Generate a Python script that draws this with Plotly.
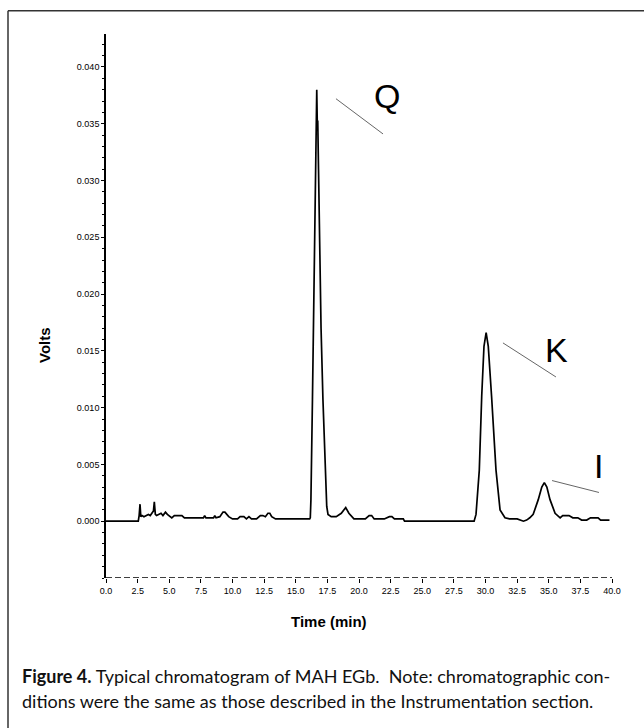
import plotly.graph_objects as go

# ---- data ----
time_min = [0.0, 2.55, 2.62, 2.69, 2.75, 2.85, 3.0, 3.2, 3.35, 3.5, 3.65, 3.75, 3.82, 3.9, 4.0,
            4.2, 4.35, 4.5, 4.7, 4.85, 5.0, 5.2, 5.4, 5.6, 6.0, 6.2, 6.4, 7.0, 7.7, 7.8, 7.9,
            8.5, 8.6, 8.7, 9.0, 9.25, 9.4, 9.7, 10.0, 10.4, 10.6, 10.9, 11.1, 11.3, 11.5, 11.9,
            12.2, 12.4, 12.6, 12.8, 12.95, 13.1, 13.4, 14.5, 16.1, 16.15, 16.2, 16.32, 16.4,
            16.5, 16.6, 16.66, 16.7, 16.74, 16.8, 16.9, 17.0, 17.15, 17.3, 17.45, 17.55, 17.8,
            18.2, 18.6, 18.95, 19.2, 19.6, 20.5, 20.8, 21.0, 21.2, 21.5, 22.0, 22.4, 22.6, 22.8,
            23.5, 23.6, 26.0, 29.1, 29.25, 29.51, 29.7, 29.88, 30.05, 30.22, 30.48, 30.83, 31.15,
            31.54, 31.9, 32.5, 33.0, 33.25, 33.5, 33.77, 34.17, 34.45, 34.65, 34.85, 35.1, 35.5,
            35.9, 36.1, 36.6, 36.9, 37.3, 37.6, 38.0, 38.3, 38.9, 39.1, 39.4, 39.8]
volts = [0.0, 0.0, 0.0005, 0.0015, 0.0004, 0.0005, 0.0004, 0.0005, 0.0006, 0.0005, 0.0007, 0.0009,
         0.0017, 0.0006, 0.0005, 0.0006, 0.0007, 0.0005, 0.0008, 0.0006, 0.0005, 0.0003, 0.0005,
         0.0005, 0.0005, 0.0003, 0.0003, 0.0003, 0.0003, 0.0005, 0.0003, 0.0003, 0.0005, 0.0003,
         0.0004, 0.0008, 0.0008, 0.0004, 0.0002, 0.0002, 0.0004, 0.0004, 0.0002, 0.0004, 0.0002,
         0.0002, 0.0005, 0.0005, 0.0004, 0.0007, 0.0007, 0.0004, 0.0002, 0.0002, 0.0002, 0.0003,
         0.0019, 0.0107, 0.017, 0.025, 0.033, 0.038, 0.0352, 0.0352, 0.031, 0.024, 0.017, 0.0107,
         0.005, 0.0013, 0.0006, 0.0004, 0.0004, 0.0007, 0.0012, 0.0007, 0.0002, 0.0002, 0.0005,
         0.0005, 0.0002, 0.0002, 0.0002, 0.0004, 0.0004, 0.0002, 0.0002, 0.0, 0.0, 0.0, 0.0006,
         0.0045, 0.011, 0.0154, 0.0166, 0.0154, 0.011, 0.0045, 0.001, 0.0003, 0.0002, 0.0002,
         0.0, 0.0001, 0.0003, 0.0006, 0.0019, 0.003, 0.0034, 0.003, 0.0019, 0.0007, 0.0003,
         0.0005, 0.0005, 0.0003, 0.0003, 0.0001, 0.0001, 0.0003, 0.0003, 0.0001, 0.0001, 0.0001]

x_ticks = [0.0, 2.5, 5.0, 7.5, 10.0, 12.5, 15.0, 17.5, 20.0, 22.5, 25.0, 27.5, 30.0, 32.5, 35.0, 37.5, 40.0]
y_ticks = [0.000, 0.005, 0.010, 0.015, 0.020, 0.025, 0.030, 0.035, 0.040]

peak_labels = ["Q", "K", "I"]
label_pos = [(22.2, 0.0374), (35.65, 0.0151), (38.9, 0.0049)]
leader_lines = [((18.18, 0.0372), (21.9, 0.0341)),
                ((31.38, 0.0157), (35.57, 0.0127)),
                ((35.26, 0.00358), (38.97, 0.00253))]

x_title = "Time (min)"
y_title = "Volts"
caption1 = "<b>Figure 4.</b> Typical chromatogram of MAH EGb.\u00a0 Note: chromatographic con-"
caption2 = "ditions were the same as those described in the Instrumentation section."

# ---- layout geometry ----
W, H = 644, 728
L, R, T, B = 106, 32, 34, 150
PW, PH = W - L - R, H - T - B


def px2x(px):
    return (px - L) / PW


def py2y(py):
    return (H - B - py) / PH


TICKF = "Liberation Sans, Arial, sans-serif"
TITLEF = "Liberation Sans, Arial, sans-serif"

fig = go.Figure()
fig.add_trace(go.Scatter(x=time_min, y=volts, mode="lines",
                         line=dict(color="black", width=1.7), hoverinfo="skip",
                         showlegend=False))

shapes = [
    # dashed x axis line
    dict(type="line", xref="x", yref="y", x0=0, x1=40, y0=-0.005, y1=-0.005,
         line=dict(color="black", width=1.6, dash="6px,3px")),
    # outer frame (top and left)
    dict(type="line", xref="paper", yref="paper", x0=px2x(8), x1=px2x(644),
         y0=py2y(10.7), y1=py2y(10.7), line=dict(color="#333", width=1.5)),
    dict(type="line", xref="paper", yref="paper", x0=px2x(8), x1=px2x(8),
         y0=py2y(10.7), y1=py2y(728), line=dict(color="#333", width=1.5)),
]
for (a, b) in leader_lines:
    shapes.append(dict(type="line", xref="x", yref="y", x0=a[0], y0=a[1], x1=b[0], y1=b[1],
                       line=dict(color="#666", width=1)))

annotations = []
for lab, (lx, ly) in zip(peak_labels, label_pos):
    annotations.append(dict(x=lx, y=ly, xref="x", yref="y", text=lab, showarrow=False,
                            font=dict(family="Liberation Sans, Arial, sans-serif", size=34,
                                      color="black"),
                            xanchor="center", yanchor="middle"))
annotations += [
    dict(x=px2x(44), y=py2y(345), xref="paper", yref="paper", text="<b>" + y_title + "</b>",
         textangle=-90, showarrow=False, font=dict(family=TITLEF, size=15, color="black"),
         xanchor="center", yanchor="middle"),
    dict(x=px2x(329), y=py2y(621), xref="paper", yref="paper", text="<b>" + x_title + "</b>",
         showarrow=False, font=dict(family=TITLEF, size=15, color="black"),
         xanchor="center", yanchor="middle"),
    dict(x=px2x(20), y=py2y(676), xref="paper", yref="paper", text=caption1,
         showarrow=False, font=dict(family="Lato, sans-serif", size=18, color="#111"),
         xanchor="left", yanchor="middle"),
    dict(x=px2x(20), y=py2y(701), xref="paper", yref="paper", text=caption2,
         showarrow=False, font=dict(family="Lato, sans-serif", size=18, color="#111"),
         xanchor="left", yanchor="middle"),
]

fig.update_layout(
    width=W, height=H,
    margin=dict(l=L, r=R, t=T, b=B, pad=0),
    paper_bgcolor="white", plot_bgcolor="white",
    shapes=shapes, annotations=annotations,
    showlegend=False,
)
fig.update_xaxes(range=[0, 40], tickvals=x_ticks, ticktext=[f"{v:.1f}" for v in x_ticks],
                 ticks="outside", ticklen=4, tickwidth=1.2, tickcolor="black",
                 showline=False, showgrid=False, zeroline=False, automargin=False,
                 tickfont=dict(family=TICKF, size=9, color="black"))
fig.update_yaxes(range=[-0.005, 0.0429], tickvals=y_ticks, ticktext=[f"{v:.3f}" for v in y_ticks],
                 ticks="outside", ticklen=3, tickwidth=1.2, tickcolor="black",
                 showline=True, linecolor="black", linewidth=1.6,
                 showgrid=False, zeroline=False, automargin=False,
                 minor=dict(tickmode="linear", tick0=0, dtick=0.001, ticks="outside",
                            ticklen=2, tickcolor="black", tickwidth=1),
                 tickfont=dict(family=TICKF, size=9, color="black"))

fig.write_html("out.html", config={"displayModeBar": False},
               post_script="document.body.style.margin='0';")
